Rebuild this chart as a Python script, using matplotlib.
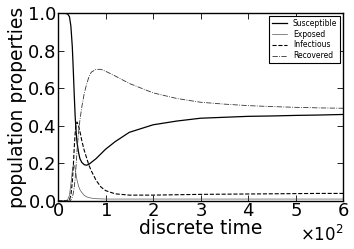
import matplotlib
matplotlib.use("Agg")
import matplotlib.pyplot as plt
from matplotlib.ticker import ScalarFormatter

t = [0, 10, 20, 24, 27, 30, 32, 34, 36, 38, 40, 43, 46, 50, 55, 60, 65, 70, 80,
     90, 100, 120, 150, 200, 250, 300, 350, 400, 450, 500, 550, 600]
susceptible = [1.0, 1.0, 0.995, 0.98, 0.93, 0.82, 0.7, 0.57, 0.45, 0.37, 0.31, 0.26,
               0.225, 0.205, 0.193, 0.19, 0.195, 0.205, 0.225, 0.25, 0.275, 0.315, 0.365,
               0.405, 0.425, 0.44, 0.445, 0.45, 0.452, 0.455, 0.457, 0.46]
exposed = [0.0, 0.0, 0.005, 0.03, 0.09, 0.16, 0.19, 0.19, 0.17, 0.14, 0.11, 0.08,
           0.06, 0.045, 0.03, 0.022, 0.018, 0.015, 0.012, 0.011, 0.01, 0.01, 0.01,
           0.01, 0.01, 0.01, 0.01, 0.01, 0.01, 0.01, 0.01, 0.01]
infectious = [0.0, 0.0, 0.0, 0.005, 0.03, 0.1, 0.18, 0.28, 0.36, 0.41, 0.42, 0.40,
              0.37, 0.32, 0.27, 0.23, 0.19, 0.16, 0.11, 0.075, 0.055, 0.038, 0.031,
              0.031, 0.033, 0.035, 0.036, 0.037, 0.038, 0.039, 0.04, 0.04]
recovered = [0.0, 0.0, 0.0, 0.0, 0.005, 0.02, 0.04, 0.07, 0.12, 0.19, 0.27, 0.36,
             0.43, 0.5, 0.57, 0.62, 0.66, 0.685, 0.70, 0.70, 0.69, 0.665, 0.625,
             0.575, 0.545, 0.525, 0.515, 0.507, 0.502, 0.498, 0.495, 0.493]

plt.rcParams['font.family'] = ['DejaVu Sans']
fig = plt.figure(figsize=(3.54, 2.49), dpi=100)
ax = fig.add_axes([0.164, 0.193, 0.805, 0.755])

ax.plot(t, susceptible, color='black', lw=0.9, ls='-', label='Susceptible')
ax.plot(t, exposed, color='#555555', lw=0.5, ls='-', label='Exposed')
ax.plot(t, infectious, color='black', lw=0.8, ls='--', label='Infectious')
ax.plot(t, recovered, color='#333333', lw=0.6, ls='-.', label='Recovered')

ax.set_xlim(0, 600)
ax.set_ylim(0, 1.0)
ax.set_xticks([0, 100, 200, 300, 400, 500, 600])
ax.set_yticks([0.0, 0.2, 0.4, 0.6, 0.8, 1.0])
fmt = ScalarFormatter(useMathText=True)
fmt.set_powerlimits((0, 0))
ax.xaxis.set_major_formatter(fmt)
ax.xaxis.get_offset_text().set_fontsize(12)

ax.tick_params(direction='in', top=True, right=True, labelsize=13, length=4, width=0.6, pad=1)
for s in ax.spines.values():
    s.set_linewidth(1.0)

ax.set_xlabel('discrete time', fontsize=13.5, labelpad=-1)
ax.set_ylabel('population properties', fontsize=13.5, labelpad=1)

leg = ax.legend(loc='upper right', fontsize=5.5, fancybox=False, edgecolor='black',
                framealpha=1, handlelength=2.0, borderpad=0.35, labelspacing=0.25,
                borderaxespad=0.4)
leg.get_frame().set_linewidth(0.8)

fig.savefig('out.png', dpi=100)
